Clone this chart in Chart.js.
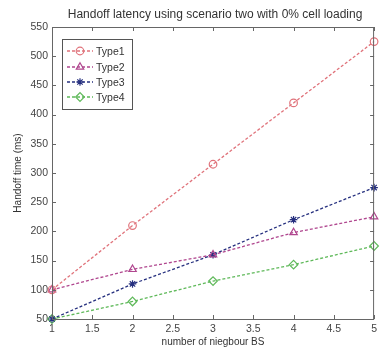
<!DOCTYPE html>
<html>
<head>
<meta charset="utf-8">
<script src="https://cdn.jsdelivr.net/npm/chart.js@4.4.1/dist/chart.umd.min.js"></script>
<style>
  html, body { margin: 0; padding: 0; background: #fff; }
  #wrap { width: 381px; height: 349px; }
</style>
</head>
<body>
<div id="wrap"><canvas id="latencyChart" width="381" height="349"></canvas></div>
<script>
// data
var neighbours = [1, 2, 3, 4, 5];
var type1 = [100, 210, 315, 420, 525];
var type2 = [100, 135, 160, 198, 225];
var type3 = [50, 110, 160, 220, 275];
var type4 = [50, 80, 115, 143, 175];
var seriesNames = ['Type1', 'Type2', 'Type3', 'Type4'];
var yTicks = [50, 100, 150, 200, 250, 300, 350, 400, 450, 500, 550];
var xTicks = [1, 1.5, 2, 2.5, 3, 3.5, 4, 4.5, 5];

var chartTitle = 'Handoff latency using scenario two with 0% cell loading';
var FONT = 'Arial, "Liberation Sans", sans-serif';

function toPoints(vals) {
    return neighbours.map(function (n, i) { return { x: n, y: vals[i] }; });
}

function makeSet(label, vals, color, style, radius) {
    return {
        label: label,
        data: toPoints(vals),
        borderColor: color,
        backgroundColor: 'rgba(255,255,255,0)',
        borderWidth: 1.3,
        borderDash: [3, 2],
        pointStyle: style,
        pointRadius: radius,
        pointBorderColor: color,
        pointBackgroundColor: 'rgba(255,255,255,0)',
        pointBorderWidth: 1.2,
        tension: 0,
        clip: false
    };
}

// title + matlab style box, inner ticks and legend
var matlabLook = {
    id: 'matlabLook',
    afterDraw: function (chart) {
        var ctx = chart.ctx;
        var a = chart.chartArea;
        var xs = chart.scales.x, ys = chart.scales.y;
        ctx.save();

        // title
        ctx.fillStyle = '#333';
        ctx.font = '12px ' + FONT;
        ctx.textAlign = 'center';
        ctx.textBaseline = 'middle';
        ctx.fillText(chartTitle, (a.left + a.right) / 2 + 2, 15);

        // box
        ctx.strokeStyle = '#666';
        ctx.lineWidth = 1;
        ctx.setLineDash([]);
        ctx.strokeRect(a.left + 0.5, a.top + 0.5, a.right - a.left - 1, a.bottom - a.top);

        // inner ticks
        ctx.beginPath();
        xTicks.forEach(function (v) {
            var px = Math.round(xs.getPixelForValue(v)) + 0.5;
            ctx.moveTo(px, a.bottom); ctx.lineTo(px, a.bottom - 4);
            ctx.moveTo(px, a.top); ctx.lineTo(px, a.top + 4);
        });
        yTicks.forEach(function (v) {
            var py = Math.round(ys.getPixelForValue(v)) + 0.5;
            ctx.moveTo(a.left, py); ctx.lineTo(a.left + 4, py);
            ctx.moveTo(a.right, py); ctx.lineTo(a.right - 4, py);
        });
        ctx.stroke();

        // legend
        var bx = 62, by = 39, bw = 70, bh = 70;
        ctx.fillStyle = '#fff';
        ctx.fillRect(bx, by, bw, bh);
        ctx.strokeStyle = '#555';
        ctx.strokeRect(bx + 0.5, by + 0.5, bw, bh);
        var rows = [51, 67, 82, 97];
        ctx.font = '10.5px ' + FONT;
        ctx.textAlign = 'left';
        chart.data.datasets.forEach(function (ds, i) {
            var y = rows[i];
            ctx.strokeStyle = ds.borderColor;
            ctx.lineWidth = 1.3;
            ctx.setLineDash([3, 2]);
            ctx.beginPath();
            ctx.moveTo(bx + 5, y); ctx.lineTo(bx + 31, y);
            ctx.stroke();
            ctx.setLineDash([]);
            ctx.lineWidth = 1.2;
            ctx.fillStyle = 'rgba(255,255,255,0)';
            Chart.helpers.drawPoint(ctx, {
                pointStyle: ds.pointStyle, radius: ds.pointRadius, rotation: 0, borderWidth: 1.2
            }, bx + 18, y);
            ctx.fillStyle = '#333';
            ctx.fillText(ds.label, bx + 34, y + 1);
        });
        ctx.restore();
    }
};

var ctx = document.getElementById('latencyChart').getContext('2d');
var latencyChart = new Chart(ctx, {
    type: 'line',
    data: {
        datasets: [
            makeSet(seriesNames[0], type1, '#e0737b', 'circle', 3.8),
            makeSet(seriesNames[1], type2, '#b0478f', 'triangle', 4.3),
            makeSet(seriesNames[2], type3, '#26307f', 'star', 3.8),
            makeSet(seriesNames[3], type4, '#5fb95a', 'rectRot', 4.3)
        ]
    },
    options: {
        responsive: false,
        animation: false,
        layout: { padding: { top: 27, right: 0, left: 0, bottom: 0 } },
        plugins: {
            legend: { display: false },
            title: { display: false },
            tooltip: { enabled: false }
        },
        scales: {
            x: {
                type: 'linear',
                min: 1,
                max: 5,
                afterBuildTicks: function (scale) {
                    scale.ticks = xTicks.map(function (v) { return { value: v }; });
                },
                afterFit: function (scale) { scale.height = 30; },
                grid: { display: false, drawTicks: false },
                border: { display: false },
                ticks: {
                    color: '#444',
                    padding: 4,
                    maxRotation: 0,
                    autoSkip: false,
                    font: { size: 10.5, family: FONT },
                    callback: function (v) { return String(v); }
                },
                title: {
                    display: true,
                    text: 'number of niegbour BS',
                    color: '#333',
                    font: { size: 10, family: FONT },
                    padding: { top: 0, bottom: 1 }
                }
            },
            y: {
                min: 50,
                max: 550,
                afterBuildTicks: function (scale) {
                    scale.ticks = yTicks.map(function (v) { return { value: v }; });
                },
                afterFit: function (scale) { scale.width = 52; },
                grid: { display: false, drawTicks: false },
                border: { display: false },
                ticks: {
                    color: '#444',
                    padding: 4,
                    autoSkip: false,
                    font: { size: 10.5, family: FONT },
                    callback: function (v) { return String(v); }
                },
                title: {
                    display: true,
                    text: 'Handoff time (ms)',
                    color: '#333',
                    font: { size: 10, family: FONT },
                    padding: { top: 12, bottom: 0 }
                }
            }
        }
    },
    plugins: [matlabLook]
});
</script>
</body>
</html>
